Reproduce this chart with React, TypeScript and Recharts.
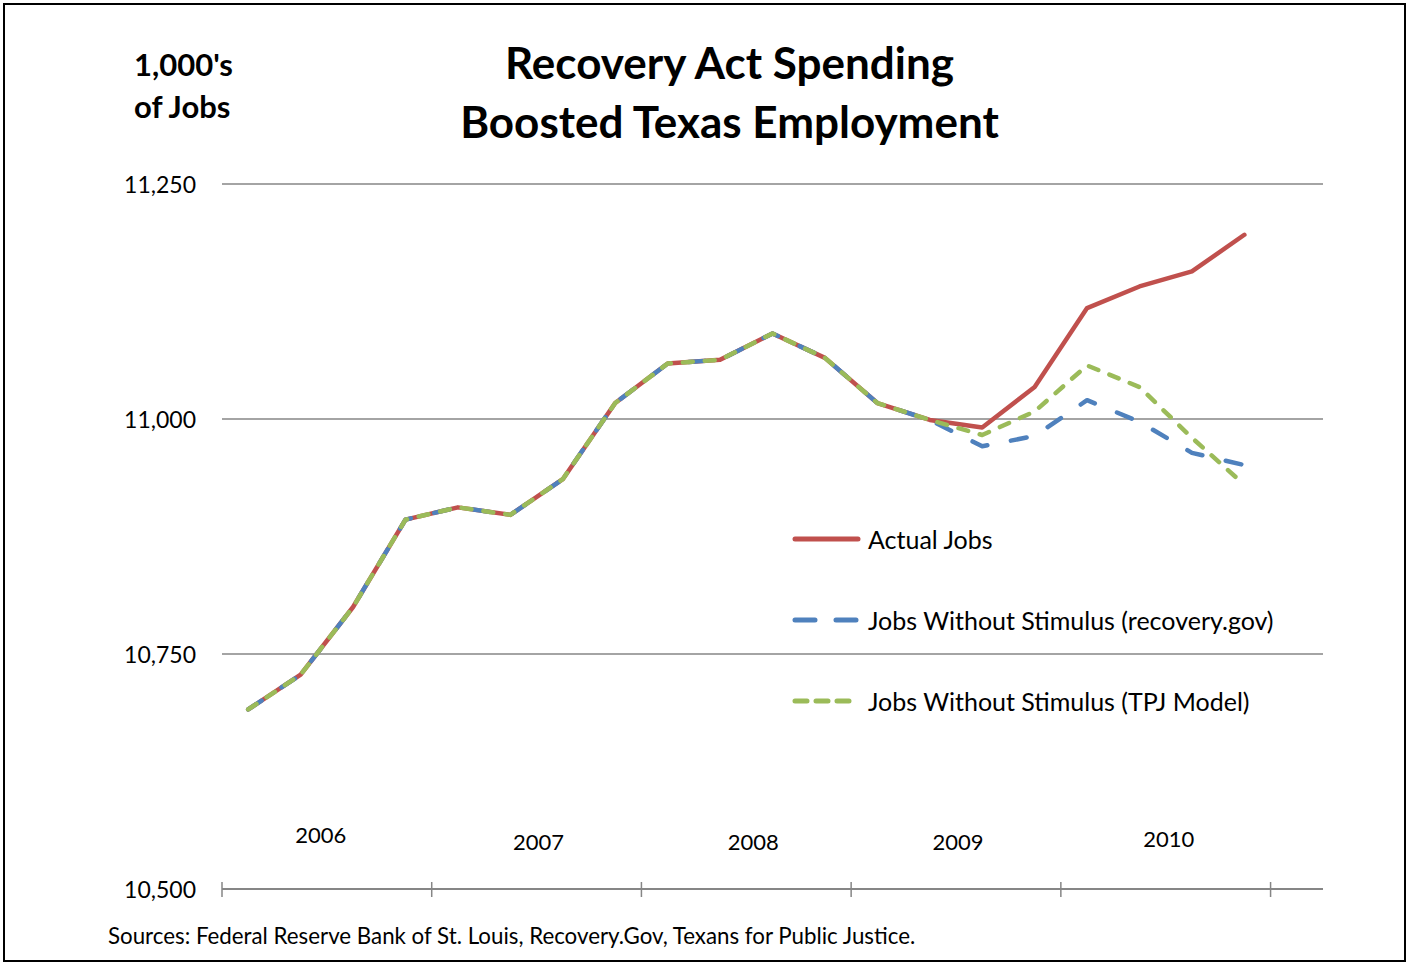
import { CartesianGrid, Line, LineChart, XAxis, YAxis } from "recharts";

const quarters = [
  "2006 Q1", "2006 Q2", "2006 Q3", "2006 Q4",
  "2007 Q1", "2007 Q2", "2007 Q3", "2007 Q4",
  "2008 Q1", "2008 Q2", "2008 Q3", "2008 Q4",
  "2009 Q1", "2009 Q2", "2009 Q3", "2009 Q4",
  "2010 Q1", "2010 Q2", "2010 Q3", "2010 Q4",
];
const actualJobs = [
  10691, 10728, 10800, 10893, 10906, 10898, 10936, 11017, 11059, 11063,
  11091, 11065, 11017, 10999, 10991, 11034, 11118, 11141, 11157, 11196,
];
const recoveryGov = [
  10691, 10728, 10800, 10893, 10906, 10898, 10936, 11017, 11059, 11063,
  11091, 11065, 11017, 10999, 10971, 10982, 11020, 10997, 10964, 10951,
];
const tpjModel = [
  10691, 10728, 10800, 10893, 10906, 10898, 10936, 11017, 11059, 11063,
  11091, 11065, 11017, 10999, 10983, 11008, 11057, 11034, 10980, 10930,
];
const years = ["2006", "2007", "2008", "2009", "2010"];
const yTicks = [10500, 10750, 11000, 11250];

const series = [
  { key: "actual", name: "Actual Jobs", color: "#C0504D", dash: undefined, legendDash: undefined },
  { key: "recovery", name: "Jobs Without Stimulus (recovery.gov)", color: "#4F81BD", dash: "16 24", legendDash: "20 21" },
  { key: "tpj", name: "Jobs Without Stimulus (TPJ Model)", color: "#9BBB59", dash: "10 12", legendDash: "12 9" },
];

const data = quarters.map((q, i) => ({
  quarter: q,
  idx: i + 0.5,
  actual: actualJobs[i],
  recovery: recoveryGov[i],
  tpj: tpjModel[i],
}));

const FONT = "Lato, 'Noto Sans', sans-serif";
// the year labels sit a little off-centre in the original
const yearDx = [-6, 2, 7, 2, 3];
const yearDy = [-7, 0, 0, 0, -3];

const YTick = (props: any) => {
  const { y, payload } = props;
  return (
    <text x={196} y={y} textAnchor="end" dominantBaseline="central" fontSize={23} fontFamily={FONT} fill="#000">
      {payload.value.toLocaleString("en-US")}
    </text>
  );
};

const XTick = (props: any) => {
  const { x, payload } = props;
  const v = payload.value;
  if (v % 4 === 0) {
    return <line x1={x} x2={x} y1={882} y2={897} stroke="#868686" strokeWidth={1.5} />;
  }
  const k = (v - 2) / 4;
  return (
    <text x={x + yearDx[k]} y={841 + yearDy[k]} textAnchor="middle" dominantBaseline="central" fontSize={22} fontFamily={FONT} fill="#000">
      {years[k]}
    </text>
  );
};

const LegendBox = () => (
  <div style={{ position: "absolute", left: 790, top: 498, fontFamily: FONT, fontSize: 25, color: "#000" }}>
    {series.map((s) => (
      <div key={s.key} style={{ display: "flex", alignItems: "center", height: 81 }}>
        <svg width={75} height={10} style={{ marginRight: 3 }}>
          <line
            x1={5}
            x2={68}
            y1={5}
            y2={5}
            stroke={s.color}
            strokeWidth={5}
            strokeLinecap="round"
            strokeDasharray={s.legendDash}
          />
        </svg>
        <span>{s.name}</span>
      </div>
    ))}
  </div>
);

const App = () => {
  return (
    <div style={{ position: "absolute", left: 0, top: 0, width: 1409, height: 964, background: "#fff" }}>
      <div style={{ position: "absolute", left: 3, top: 3, width: 1403, height: 959, border: "2px solid #000", boxSizing: "border-box" }} />
      <div style={{ position: "absolute", left: 0, width: 1459, top: 33, textAlign: "center", fontFamily: FONT, fontWeight: 700, fontSize: 44, lineHeight: "59px", color: "#000" }}>
        Recovery Act Spending
        <br />
        Boosted Texas Employment
      </div>
      <div style={{ position: "absolute", left: 134, top: 43, fontFamily: FONT, fontWeight: 700, fontSize: 31, lineHeight: "42px", color: "#000" }}>
        1,000's
        <br />
        of Jobs
      </div>
      <div style={{ position: "absolute", left: 108, top: 922, fontFamily: FONT, fontSize: 22.3, color: "#000" }}>
        Sources: Federal Reserve Bank of St. Louis, Recovery.Gov, Texans for Public Justice.
      </div>
      <LineChart width={1409} height={964} data={data} margin={{ top: 184, right: 86, bottom: 0, left: 0 }}>
        <CartesianGrid vertical={false} stroke="#868686" strokeWidth={1.5} />
        <XAxis
          dataKey="idx"
          type="number"
          domain={[0, 21]}
          ticks={[0, 2, 4, 6, 8, 10, 12, 14, 16, 18, 20]}
          height={75}
          tickLine={false}
          axisLine={{ stroke: "#868686", strokeWidth: 2 }}
          tick={<XTick />}
          interval={0}
        />
        <YAxis
          domain={[10500, 11250]}
          ticks={yTicks}
          width={222}
          axisLine={false}
          tickLine={false}
          tick={<YTick />}
          interval={0}
        />
        {series.map((s) => (
          <Line
            key={s.key}
            dataKey={s.key}
            name={s.name}
            stroke={s.color}
            strokeWidth={4.5}
            strokeDasharray={s.dash}
            strokeLinecap="round"
            strokeLinejoin="round"
            dot={false}
            activeDot={false}
            isAnimationActive={false}
          />
        ))}
      </LineChart>
      <LegendBox />
    </div>
  );
};

export default App;
